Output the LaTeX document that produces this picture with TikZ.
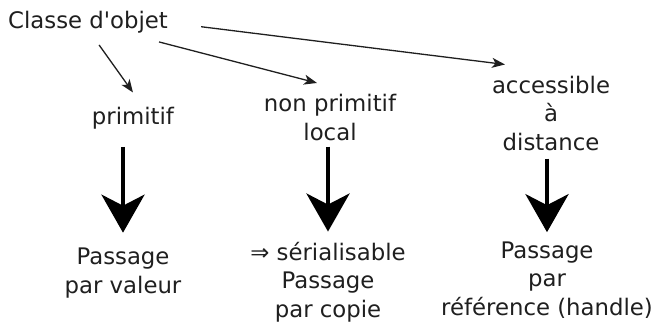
\documentclass[tikz,border=0pt]{standalone}
\usepackage{fontspec}
\setmainfont{DejaVu Sans}[Ligatures=TeXOff]
\usetikzlibrary{arrows.meta}
\begin{document}
\begin{tikzpicture}[x=1pt,y=-1pt,
  lbl/.style={inner sep=0pt, align=center, font=\fontsize{22.8}{28.5}\selectfont, text=black!88},
  thin/.style={line width=1.3pt, black!88, -{Stealth[length=13pt,width=10pt,inset=3.5pt]}},
  big/.style={line width=4.6pt, black, -{Stealth[length=38pt,width=43pt,inset=11pt]}}]
\useasboundingbox (0,0) rectangle (660,324);
\node[lbl, anchor=base west] (cls) at (8,28) {Classe d'objet};
\node[lbl, anchor=base] (prim) at (133,124) {primitif};
\node[lbl, anchor=base] (npl) at (330,140) {non primitif\\local};
\node[lbl, anchor=base] (acc) at (551,150) {accessible\\à\\distance};
\node[lbl, anchor=base] (pv) at (123,293) {Passage\\par valeur};
\node[lbl, anchor=base] (ser) at (328,317) {⇒ sérialisable\\Passage\\par copie};
\node[lbl, anchor=base] (ref) at (547,315) {Passage\\par\\référence (handle)};
\draw[thin] ([xshift=11pt,yshift=-12pt]cls.south) -- ([yshift=14pt]prim.north);
\draw[thin] ([xshift=71pt,yshift=-9pt]cls.south) -- ([xshift=-13pt,yshift=11pt]npl.north);
\draw[thin] ([xshift=33pt,yshift=-5pt]cls.east) -- ([xshift=-46pt,yshift=11pt]acc.north);
\draw[big, shorten <=18pt, shorten >=15pt] (prim.south -| pv.north) -- (pv.north);
\draw[big, shorten <=6pt, shorten >=10pt] (npl.south -| ser.north) -- (ser.north);
\draw[big, shorten <=8pt, shorten >=9pt] (acc.south -| ref.north) -- (ref.north);
\end{tikzpicture}
\end{document}
